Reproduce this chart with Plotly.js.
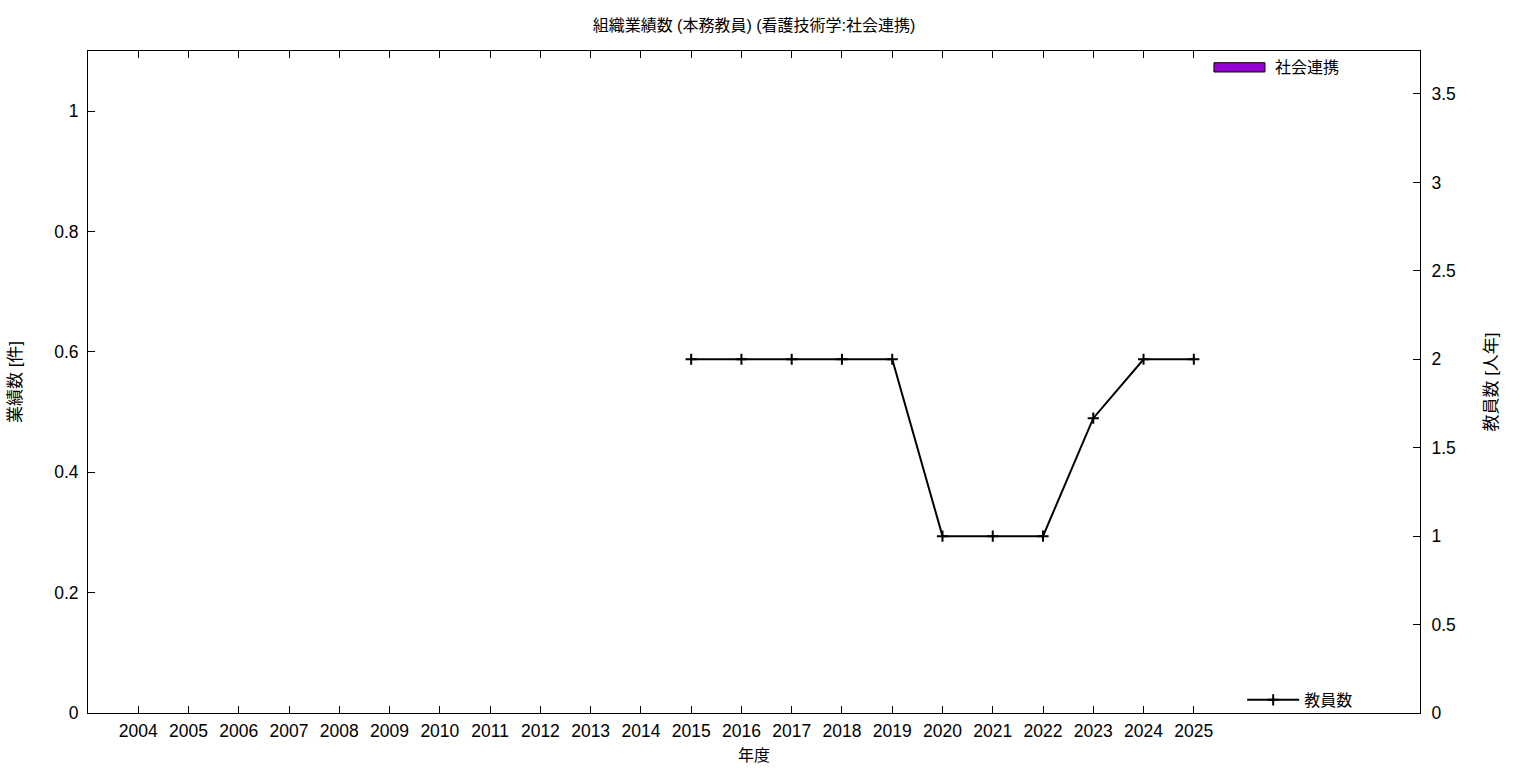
<!DOCTYPE html>
<html>
<head>
<meta charset="utf-8">
<script src="https://cdn.plot.ly/plotly-3.0.1.min.js"></script>
<style>html,body{margin:0;padding:0;background:#fff;}#chart{width:1536px;height:768px;}</style>
</head>
<body>
<div id="chart"></div>
<script>
const years = [2004,2005,2006,2007,2008,2009,2010,2011,2012,2013,2014,2015,2016,2017,2018,2019,2020,2021,2022,2023,2024,2025];
const outputCounts = [0,0,0,0,0,0,0,0,0,0,0,0,0,0,0,0,0,0,0,0,0,0];
const staffYears = [2015,2016,2017,2018,2019,2020,2021,2022,2023,2024,2025];
const staffCounts = [2,2,2,2,2,1,1,1,1.667,2,2];
const leftTicks = [0,0.2,0.4,0.6,0.8,1];
const leftTickText = ['0','0.2','0.4','0.6','0.8','1'];
const rightTicks = [0,0.5,1,1.5,2,2.5,3,3.5];
const rightTickText = ['0','0.5','1','1.5','2','2.5','3','3.5'];

const FONT = 'Liberation Sans, Arial, "Noto Sans CJK JP", sans-serif';

const traces = [
  {
    type: 'bar', x: years, y: outputCounts, name: '社会連携',
    marker: {color: '#9400d3', line: {color: '#000', width: 0}},
    width: 0.5, yaxis: 'y', showlegend: false
  },
  {
    type: 'scatter', mode: 'lines+markers', x: staffYears, y: staffCounts, name: '教員数',
    line: {color: '#000', width: 2},
    marker: {symbol: 'cross-thin', size: 8, line: {color: '#000', width: 2}},
    yaxis: 'y2', legend: 'legend2'
  }
];

const layout = {
  width: 1536, height: 768,
  margin: {l: 88, r: 116, t: 51, b: 55},
  paper_bgcolor: '#fff', plot_bgcolor: '#fff',
  font: {family: FONT, size: 16, color: '#000'},
  title: {text: '組織業績数 (本務教員) (看護技術学:社会連携)', xref: 'paper', x: 0.5, xanchor: 'center', y: 0.967, yanchor: 'middle', font: {family: FONT, size: 16}},
  xaxis: {
    range: [2003, 2029.5], tickvals: years, ticktext: years.map(String),
    ticks: 'inside', ticklen: 7, tickcolor: '#000', showline: true, linecolor: '#000', linewidth: 1,
    mirror: 'ticks', showgrid: false, zeroline: false, ticklabelstandoff: 2,
    tickfont: {size: 17.5},
    title: {text: '年度', font: {size: 16}, standoff: 9}
  },
  yaxis: {
    range: [0, 1.1], tickvals: leftTicks, ticktext: leftTickText,
    ticks: 'inside', ticklen: 7, tickcolor: '#000', showline: true, linecolor: '#000', linewidth: 1,
    showgrid: false, zeroline: false, ticklabelstandoff: 5,
    tickfont: {size: 17.5},
    title: {text: '業績数 [件]', font: {size: 17}, standoff: 28}
  },
  yaxis2: {
    range: [0, 3.743], tickvals: rightTicks, ticktext: rightTickText,
    overlaying: 'y', side: 'right',
    ticks: 'inside', ticklen: 7, tickcolor: '#000', showline: true, linecolor: '#000', linewidth: 1,
    showgrid: false, zeroline: false, ticklabelstandoff: 7,
    tickfont: {size: 17.5},
    title: {text: '教員数 [人年]', font: {size: 17}, standoff: 30}
  },
  legend2: {x: 0.8665, xanchor: 'left', y: -0.006, yanchor: 'bottom', bgcolor: 'rgba(0,0,0,0)', font: {size: 16}, itemwidth: 52},
  showlegend: true,
  shapes: [
    {type: 'rect', xref: 'paper', yref: 'paper', x0: 0.8453, x1: 0.8836, y0: 0.9683, y1: 0.9823,
     fillcolor: '#9400d3', line: {color: '#000', width: 1}}
  ],
  annotations: [
    {text: '社会連携', xref: 'paper', yref: 'paper', x: 0.8897, y: 0.9758, xanchor: 'left', yanchor: 'middle',
     showarrow: false, font: {size: 16}}
  ]
};

Plotly.newPlot('chart', traces, layout, {displayModeBar: false, staticPlot: true});
</script>
</body>
</html>
